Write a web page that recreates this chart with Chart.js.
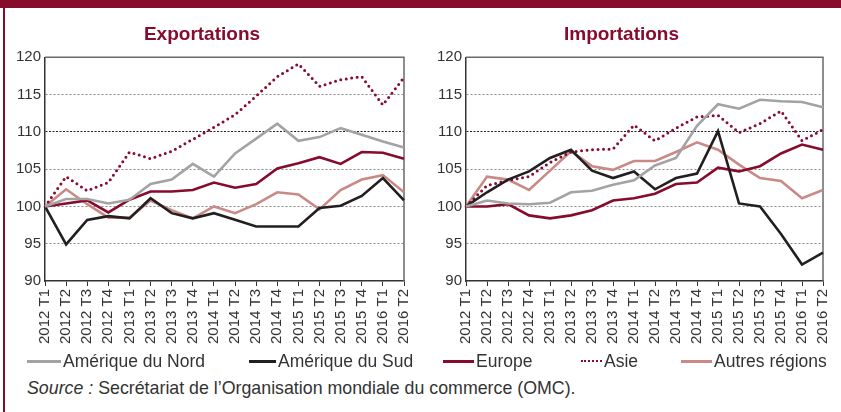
<!DOCTYPE html>
<html>
<head>
<meta charset="utf-8">
<script src="https://cdn.jsdelivr.net/npm/chart.js@4.4.0/dist/chart.umd.min.js"></script>
<style>
  body { margin: 0; width: 841px; height: 412px; overflow: hidden; background: #fff; position: relative;
         font-family: "Liberation Sans", sans-serif; color: #333; }
  .topbar { position: absolute; left: 0; top: 0; width: 841px; height: 8px; background: #870b2d; }
  .leftbar { position: absolute; left: 3px; top: 0; width: 2px; height: 412px; background: #870b2d; }
  canvas { position: absolute; top: 0; }
  #expChart { left: 0; }
  #impChart { left: 420px; }
  .item { position: absolute; top: 350px; height: 22px; line-height: 22px; font-size: 17.5px; white-space: nowrap; }
  .swatch { display: inline-block; vertical-align: middle; height: 0; margin-right: 2px; position: relative; top: -1px; }
  .source { position: absolute; left: 27px; top: 378px; font-size: 17.8px; white-space: nowrap; }
</style>
</head>
<body>
<div class="topbar"></div>
<div class="leftbar"></div>
<canvas id="expChart" width="449" height="352"></canvas>
<canvas id="impChart" width="449" height="352"></canvas>
<div id="legend"></div>
<div class="source"><i>Source :</i> Secrétariat de l’Organisation mondiale du commerce (OMC).</div>

<script>
var quarters = ['2012 T1','2012 T2','2012 T3','2012 T4','2013 T1','2013 T2','2013 T3','2013 T4',
                '2014 T1','2014 T2','2014 T3','2014 T4','2015 T1','2015 T2','2015 T3','2015 T4',
                '2016 T1','2016 T2'];
var yTicks = [90, 95, 100, 105, 110, 115, 120];
var seriesNames = ['Amérique du Nord', 'Amérique du Sud', 'Europe', 'Asie', 'Autres régions'];

// Exportations
var expNord   = [100,101.0,101.0,100.4,100.9,103.0,103.6,105.7,104.0,107.1,109.1,111.1,108.8,109.3,110.5,109.6,108.7,107.9];
var expSud    = [100,94.9,98.2,98.7,98.4,101.1,99.1,98.4,99.1,98.2,97.3,97.3,97.3,99.8,100.1,101.4,103.8,100.8];
var expEurope = [100,100.4,100.8,99.2,100.9,102.0,102.0,102.2,103.2,102.5,103.0,105.1,105.8,106.6,105.7,107.3,107.2,106.4];
var expAsie   = [100,104.0,102.1,103.2,107.3,106.4,107.4,109.0,110.6,112.3,114.8,117.4,119.1,116.1,117.0,117.4,113.6,117.3];
var expAutres = [100,102.3,100.3,98.5,98.5,100.8,99.5,98.4,100.0,99.1,100.3,101.9,101.6,99.6,102.2,103.6,104.2,101.9];

// Importations
var impNord   = [100,100.8,100.4,100.3,100.5,101.9,102.1,102.9,103.5,105.5,106.5,110.8,113.7,113.1,114.3,114.1,114.0,113.3];
var impSud    = [100,101.9,103.6,104.7,106.5,107.6,104.8,103.8,104.7,102.3,103.8,104.4,110.1,100.4,100.0,96.3,92.2,93.8];
var impEurope = [100,100.0,100.3,98.8,98.4,98.8,99.5,100.8,101.1,101.7,103.0,103.2,105.2,104.7,105.4,107.1,108.3,107.6];
var impAsie   = [100,102.8,103.5,104.0,105.9,107.3,107.6,107.7,110.9,108.8,110.5,112.0,112.2,109.9,111.1,112.8,108.8,110.3];
var impAutres = [100,104.0,103.6,102.2,104.8,107.4,105.4,104.9,106.1,106.1,107.3,108.6,107.6,105.6,103.8,103.4,101.1,102.2];

var maroon = '#870b2d';
var colors = ['#a3a3a3', '#231f20', maroon, maroon, '#c98a86'];
var dotted = [false, false, false, true, false];

var plain = '"Liberation Sans", sans-serif';

// top and right edge of the plot box
var frame = {
    id: 'frame',
    beforeDatasetsDraw: function(chart) {
        var a = chart.chartArea, c = chart.ctx;
        c.save();
        c.strokeStyle = '#6a6a6a';
        c.lineWidth = 1.5;
        c.beginPath();
        c.moveTo(a.left, a.top);
        c.lineTo(a.right, a.top);
        c.lineTo(a.right, a.bottom);
        c.stroke();
        c.restore();
    }
};

function makeChart(id, title, values, axisWidth, rightPad){
    var datasets = values.map(function(v, i){
        return {
            label: seriesNames[i],
            data: v,
            borderColor: colors[i],
            borderWidth: dotted[i] ? 3 : 2.6,
            borderDash: dotted[i] ? [0, 5.5] : [],
            borderCapStyle: dotted[i] ? 'round' : 'butt',
            pointRadius: 0,
            tension: 0,
            fill: false
        };
    });

    return new Chart(document.getElementById(id), {
        type: 'line',
        data: { labels: quarters, datasets: datasets },
        plugins: [frame],
        options: {
            responsive: false,
            animation: false,
            devicePixelRatio: 1,
            layout: { padding: { left: 0, right: rightPad, top: 0, bottom: 0 } },
            plugins: {
                legend: { display: false },
                tooltip: { enabled: false },
                title: {
                    display: true,
                    text: title,
                    color: maroon,
                    font: { family: plain, size: 19, weight: 'bold' },
                    padding: { top: 23, bottom: 11.5 }
                }
            },
            scales: {
                x: {
                    offset: false,
                    grid: { drawOnChartArea: false, drawTicks: true, tickLength: 5, tickColor: '#333' },
                    border: { color: '#333', width: 1.5 },
                    ticks: {
                        autoSkip: false, minRotation: 90, maxRotation: 90, padding: 3,
                        color: '#333', font: { family: plain, size: 15 }
                    },
                    afterFit: function(s){ s.height = 71; }
                },
                y: {
                    min: yTicks[0],
                    max: yTicks[yTicks.length - 1],
                    afterBuildTicks: function(s){ s.ticks = yTicks.map(function(v){ return { value: v }; }); },
                    grid: {
                        drawTicks: false,
                        lineWidth: 1,
                        color: function(c){
                            if (!c.tick) return 'transparent';
                            var v = c.tick.value;
                            if (v === 90 || v === 120) return 'transparent';
                            return v === 110 ? '#222' : '#8a8a8a';
                        }
                    },
                    border: {
                        color: '#333', width: 1.5,
                        dash: function(c){ return (c.tick && c.tick.value === 110) ? [2, 1.5] : [2, 2]; }
                    },
                    ticks: { padding: 4, color: '#333', font: { family: plain, size: 15 } },
                    afterFit: function(s){ s.width = axisWidth; }
                }
            }
        }
    });
}

makeChart('expChart', 'Exportations', [expNord, expSud, expEurope, expAsie, expAutres], 45, 45);
makeChart('impChart', 'Importations', [impNord, impSud, impEurope, impAsie, impAutres], 46, 46);

// legend row under both charts
var legendX = [27, 249, 443, 581, 681];
var swatchW = [34, 27, 31, 21, 31];
var legend = document.getElementById('legend');
seriesNames.forEach(function(name, i){
    var item = document.createElement('div');
    item.className = 'item';
    item.style.left = legendX[i] + 'px';
    var sw = document.createElement('span');
    sw.className = 'swatch';
    sw.style.width = swatchW[i] + 'px';
    sw.style.borderTop = (dotted[i] ? '2px dotted ' : '3px solid ') + colors[i];
    item.appendChild(sw);
    item.appendChild(document.createTextNode(name));
    legend.appendChild(item);
});
</script>
</body>
</html>
